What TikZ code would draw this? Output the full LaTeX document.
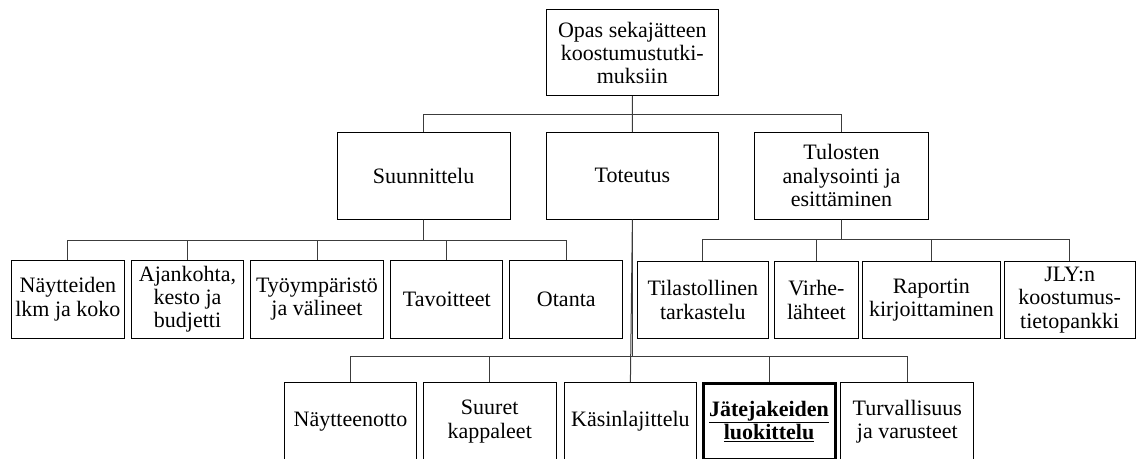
\documentclass[tikz,border=0pt]{standalone}
\usepackage{fontspec}
\setmainfont{Liberation Serif}

\tikzset{every picture/.style={line width=0.75pt}}
\tikzset{
  orgbox/.style={draw, inner sep=0pt, align=center, font=\fontsize{16.5}{17.6}\selectfont},
  orgline/.style={draw={rgb,255:red,60;green,60;blue,60}}
}

\begin{document}
\begin{tikzpicture}[x=0.75pt,y=0.75pt,yscale=-1,xscale=1]
%set diagram: 1136 x 459
\clip (0,0) rectangle (1136,459);

%Shape: Root box
\node [orgbox, minimum width=129pt, minimum height=64.5pt] (opas) at (632.3,53) {Opas sekajätteen\\koostumustutki-\\muksiin};

%Shape: Level 1 boxes
\node [orgbox, minimum width=129.6pt, minimum height=64.9pt] (suun) at (423.6,175.8) {Suunnittelu};
\node [orgbox, minimum width=129pt, minimum height=64.9pt] (tot) at (632.4,175.8) {Toteutus};
\node [orgbox, minimum width=130.5pt, minimum height=64.9pt] (tul) at (841.5,175.8) {Tulosten\\analysointi ja\\esittäminen};

%Shape: Suunnittelu children
\node [orgbox, minimum width=85pt, minimum height=58.7pt] (nayt) at (67.9,299.2) {Näytteiden\\lkm ja koko};
\node [orgbox, minimum width=84pt, minimum height=58.7pt] (ajan) at (187.5,299.2) {Ajankohta,\\kesto ja\\budjetti};
\node [orgbox, minimum width=100pt, minimum height=58.7pt] (tyoy) at (317,299.2) {Työympäristö\\ja välineet};
\node [orgbox, minimum width=84pt, minimum height=58.7pt] (tavo) at (446.8,299.2) {Tavoitteet};
\node [orgbox, minimum width=84.5pt, minimum height=58.7pt] (otan) at (566.3,299.2) {Otanta};

%Shape: Tulosten children
\node [orgbox, minimum width=98.3pt, minimum height=57.5pt] (tila) at (702.8,300) {Tilastollinen\\tarkastelu};
\node [orgbox, minimum width=62.8pt, minimum height=57.5pt] (virh) at (816.4,300) {Virhe-\\lähteet};
\node [orgbox, minimum width=103.4pt, minimum height=57.5pt] (rapo) at (931.4,300) {Raportin\\kirjoittaminen};
\node [orgbox, minimum width=98pt, minimum height=57.5pt] (jlyn) at (1069.7,300) {JLY:n\\koostumus-\\tietopankki};

%Shape: Toteutus children
\node [orgbox, minimum width=99.3pt, minimum height=58.5pt] (noto) at (350.5,421.7) {Näytteenotto};
\node [orgbox, minimum width=99.5pt, minimum height=58.5pt] (suur) at (489.7,421.7) {Suuret\\kappaleet};
\node [orgbox, minimum width=99.5pt, minimum height=58.5pt] (kasi) at (630.4,421.7) {Käsinlajittelu};
\node [orgbox, minimum width=99pt, minimum height=57pt, line width=2.25pt] (jate) at (769,421.7) {\textbf{\underline{Jätejakeiden}}\\\textbf{\underline{luokittelu}}};
\node [orgbox, minimum width=99.5pt, minimum height=58.5pt] (turv) at (907.3,421.7) {Turvallisuus\\ja varusteet};

% Connectors: root
\draw [orgline] (opas.south) -- (tot.north);
\draw [orgline] (opas.south) -- ++(0,18.3) -| (suun.north);
\draw [orgline] (opas.south) -- ++(0,18.3) -| (tul.north);

% Connectors: Suunnittelu
\foreach \n in {nayt,ajan,tyoy,tavo,otan}
  \draw [orgline] (suun.south) -- ++(0,21) -| (\n.north);

% Connectors: Tulosten
\foreach \n in {tila,virh,rapo,jlyn}
  \draw [orgline] (tul.south) -- ++(0,20.3) -| (\n.north);

% Connectors: Toteutus
\draw [orgline] (tot.south) -- (kasi.north);
\foreach \n in {noto,suur,jate,turv}
  \draw [orgline] (tot.south) -- ++(0,137) -| (\n.north);

\end{tikzpicture}
\end{document}
